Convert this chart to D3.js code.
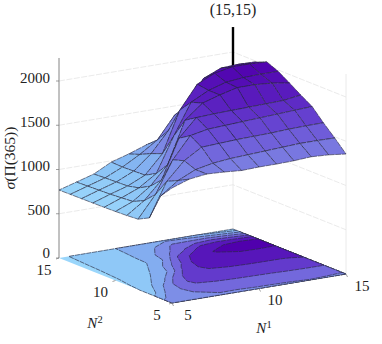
<!DOCTYPE html>
<html><head><meta charset="utf-8">
<script src="https://cdn.jsdelivr.net/npm/d3@7/dist/d3.min.js"></script>
<style>html,body{margin:0;padding:0;background:#fff}svg{display:block}text{font-family:"Liberation Serif",serif;fill:#222}</style>
</head><body><svg id="c" width="382" height="344"></svg>
<script>
const n1Values=[5,6,7,8,9,10,11,12,13,14,15];
const n2Values=[5,6,7,8,9,10,11,12,13,14,15];
const sigmaN2_5 =[1300,1367,1392,1382,1366,1373,1373,1378,1390,1379,1356];
const sigmaN2_6 =[1158,1300,1390,1430,1450,1460,1470,1480,1490,1490,1486];
const sigmaN2_7 =[860,1240,1440,1560,1570,1580,1585,1590,1600,1605,1607];
const sigmaN2_8 =[795,1040,1400,1640,1680,1690,1700,1710,1720,1730,1740];
const sigmaN2_9 =[785,920,1120,1560,1760,1770,1775,1780,1785,1790,1819];
const sigmaN2_10=[780,860,1000,1210,1680,1840,1900,1950,1950,1935,1904];
const sigmaN2_11=[776,850,930,1060,1450,1800,1900,1960,1980,1985,1985];
const sigmaN2_12=[774,840,900,990,1200,1660,1920,2010,2050,2050,2040];
const sigmaN2_13=[772,835,895,985,1150,1380,1620,1900,1985,1995,1990];
const sigmaN2_14=[770,830,890,980,1090,1220,1470,1500,1550,1500,1400];
const sigmaN2_15=[768,825,883,985,1044,1113,1150,1100,1000,900,820];
const sigma=[sigmaN2_5,sigmaN2_6,sigmaN2_7,sigmaN2_8,sigmaN2_9,sigmaN2_10,sigmaN2_11,sigmaN2_12,sigmaN2_13,sigmaN2_14,sigmaN2_15];
const zTicks=[0,500,1000,1500,2000];
const n1Ticks=[5,10,15];
const n2Ticks=[5,10,15];
const contourLevels=[800,1000,1200,1400,1600,1800,2000];
const peakLabel="(15,15)";
const zTop=2260, stemTop=2282;

const sx1=d3.scaleLinear([5,15],[172,346]), sy1=d3.scaleLinear([5,15],[303,274]);
const sx2=d3.scaleLinear([5,15],[0,-113]),  sy2=d3.scaleLinear([5,15],[0,-45]);
const sz=d3.scaleLinear([0,2000],[0,177]);
const P=(a,b,z=0)=>[sx1(a)+sx2(b), sy1(a)+sy2(b)-sz(z)];
const color=d3.scaleLinear()
  .domain([768,1000,1200,1400,1600,1800,2050])
  .range(["#9ad6fb","#86bdf4","#7f9cec","#7b7fe2","#6a50d6","#5c24c2","#5000ad"]);
const svg=d3.select("#c");
const line=d3.line();

const wall=svg.append("g").attr("fill","none").attr("stroke","#e4e4e4").attr("stroke-width",.8);
zTicks.slice(1).forEach(z=>{
  wall.append("path").attr("d",line([P(5,15,z),P(15,15,z),P(15,5,z)])).attr("stroke-dasharray","6 1.5");
});
wall.append("path").attr("d",line([P(15,15,0),P(15,15,zTop)]));
wall.append("path").attr("d",line([P(15,5,0),P(15,5,zTop)]));
svg.append("path").attr("d",line([P(5,15,0),P(5,15,zTop)])).attr("stroke","#777").attr("stroke-width",.9).attr("fill","none");

const flat=[]; sigma.forEach(r=>r.forEach(v=>flat.push(v)));
const cg=d3.contours().size([11,11]).smooth(true).thresholds(contourLevels);
const clampI=v=>Math.max(0,Math.min(10,v-.5));
const proj=d3.geoPath(d3.geoTransform({point(x,y){
  const p=P(5+clampI(x),5+clampI(y)); this.stream.point(p[0],p[1]);}}));
const floor=svg.append("g");
floor.append("path").attr("d",line([P(5,5),P(15,5),P(15,15),P(5,15)])+"Z").attr("fill",color(768));
const mid=[900,1100,1300,1500,1700,1900,2050];
cg(flat).forEach((c,k)=>{
  floor.append("path").attr("d",proj(c)).attr("fill",color(mid[k]))
   .attr("stroke","#2a2a40").attr("stroke-width",.65).attr("stroke-dasharray","5 .8");
});

const cells=[];
for(let j=0;j<10;j++)for(let i=0;i<10;i++)cells.push({i,j,d:sy1(n1Values[i]+.5)+sy2(n2Values[j]+.5)});
cells.sort((a,b)=>a.d-b.d);
const surf=svg.append("g");
cells.forEach((c,k)=>{
  const {i,j}=c; const a=n1Values[i],a2=n1Values[i+1],b=n2Values[j],b2=n2Values[j+1];
  const m=(sigma[j][i]+sigma[j][i+1]+sigma[j+1][i]+sigma[j+1][i+1])/4;
  surf.append("path").attr("d",line([P(a,b,sigma[j][i]),P(a2,b,sigma[j][i+1]),P(a2,b2,sigma[j+1][i+1]),P(a,b2,sigma[j+1][i])])+"Z")
   .attr("fill",color(m)).attr("stroke","#25253a").attr("stroke-width",.6).attr("stroke-dasharray","6 .7").attr("stroke-linejoin","round");
  if(k===0){
    surf.append("path").attr("d",line([P(15,15,sigma[10][10]),P(15,15,stemTop)])).attr("stroke","#000").attr("stroke-width",2.4).attr("fill","none");
  }
});

const zg=svg.append("g");
zTicks.forEach(z=>{
  const p=P(5,15,z);
  zg.append("path").attr("d",line([[p[0]-3,p[1]],[p[0],p[1]]])).attr("stroke","#777").attr("stroke-width",.7);
  zg.append("text").attr("x",p[0]-9).attr("y",p[1]+(z===0?0:1.5)).attr("text-anchor","end").attr("font-size",15).text(z);
});
const tg=svg.append("g");
n1Ticks.forEach(n=>{const p=P(n,5);
  tg.append("path").attr("d",line([p,[p[0]+1.5,p[1]+3]])).attr("stroke","#777").attr("stroke-width",.7);
  tg.append("text").attr("x",p[0]+16).attr("y",p[1]+16.5).attr("text-anchor","middle").attr("font-size",15).text(n);});
n2Ticks.forEach(n=>{const p=P(5,n);
  tg.append("path").attr("d",line([p,[p[0]-3,p[1]+1]])).attr("stroke","#777").attr("stroke-width",.7);
  tg.append("text").attr("x",p[0]-15).attr("y",p[1]+16.5).attr("text-anchor","middle").attr("font-size",15).text(n);});

function axisLabel(x,y,sup){
  const t=svg.append("text").attr("x",x).attr("y",y).attr("text-anchor","middle").attr("font-size",15);
  t.append("tspan").attr("font-style","italic").text("N");
  t.append("tspan").attr("dy",-5).attr("font-size",10.5).text(sup);
}
axisLabel(264,333,"1");
axisLabel(95,328,"2");
const yl=svg.append("text").attr("transform","translate(15,158) rotate(-90)").attr("text-anchor","middle").attr("font-size",15.5);
yl.append("tspan").attr("font-style","italic").text("σ");
yl.append("tspan").text("(Π(365))");
svg.append("text").attr("x",233).attr("y",15).attr("text-anchor","middle").attr("font-size",16).text(peakLabel);
</script></body></html>
